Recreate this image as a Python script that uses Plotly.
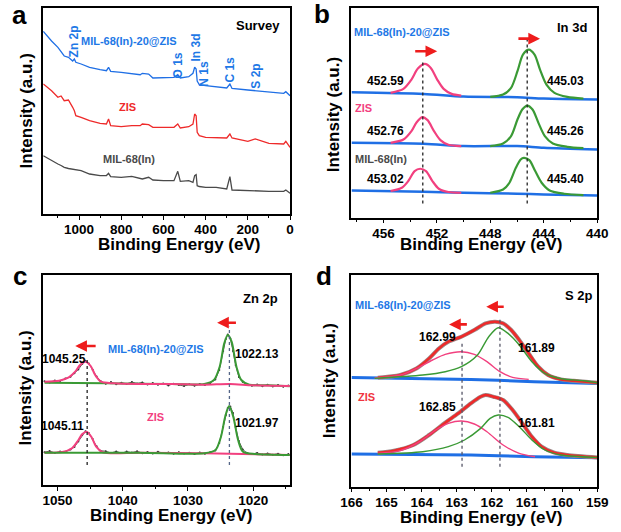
import plotly.graph_objects as go

W, H = 621, 532
BLUE = "#1f6fe5"
RED = "#ee2a2a"
PINK = "#f2407f"
GREEN = "#3a9a35"
GREY = "#4a4a4a"
FONT = "Liberation Sans, Arial, sans-serif"

# ---------------- Panel a: survey ----------------
a_ev = [1169, 1130, 1100, 1085, 1070, 1050, 1030, 1022, 1015, 990, 950, 900, 870, 860, 850, 800, 750,
        710, 700, 670, 650, 600, 550, 532, 520, 480, 460, 452, 445, 440, 430, 400, 350, 300, 285, 275,
        200, 165, 100, 30, 20, 0]
a_comp = [182.7, 173, 166.7, 161.7, 158, 156.7, 153, 155, 151.7, 150, 146.7, 144.3, 143.3, 146.7, 142.7,
          141.7, 140, 139.3, 140.7, 140, 136, 136, 136.7, 139.3, 136, 137.3, 140.7, 146.7, 145, 133, 129.3,
          128.3, 127.3, 126, 130, 125.5, 124, 123.3, 121.7, 120.7, 122.3, 118.3]
a_zis = [130, 123.3, 116.7, 118, 113.3, 114, 106.7, 103.3, 98.3, 96.7, 93.3, 90.7, 90, 95, 88.3, 87.3,
         88.3, 88.3, 90, 89.3, 86.7, 86.7, 86.7, 90, 86, 87.3, 90, 100, 98.3, 81.7, 78.3, 76.7, 76, 76,
         80, 76, 72.7, 75, 70.7, 70, 72.7, 66.7]
a_mil = [58.3, 53.3, 50, 48.5, 46.7, 45.5, 45, 44.5, 44, 43.3, 40, 38.3, 38.5, 40.7, 37.3, 36.7, 37.7,
         35.5, 35, 36.7, 34, 33.3, 33.3, 42.7, 32.7, 33.3, 31.7, 38.3, 39.3, 28.3, 27.5, 26.7, 26.7, 25,
         37.3, 24, 23.3, 23.5, 22.7, 22.7, 24, 20.7]

# ---------------- Panel b: In 3d ----------------
b_base_ev = [458.4, 453.0, 450.0, 446.0, 444.0, 440.0]
b_base_top = [125.7, 124.0, 121.3, 120.7, 119.3, 118.3]
b_base_mid = [75.0, 74.0, 71.7, 71.7, 70.0, 68.3]
b_base_bot = [27.3, 26.0, 25.0, 24.0, 23.3, 22.3]

b_pink_top_ev = [455.47, 454.51, 453.91, 453.43, 452.90, 452.46, 451.98, 451.50, 450.90, 450.18]
b_pink_top = [125.0, 129.0, 138.3, 149.3, 154.0, 150.0, 138.3, 129.0, 124.0, 122.3]
b_green_top_ev = [448.01, 447.05, 446.45, 445.97, 445.56, 445.12, 444.69, 444.28, 443.80, 443.20, 442.24, 441.03]
b_green_top = [121.0, 123.3, 130.0, 146.7, 163.3, 168.3, 163.3, 148.3, 133.3, 125.0, 121.0, 119.3]

b_pink_mid_ev = [455.47, 454.51, 453.91, 453.55, 453.11, 452.70, 452.22, 451.74, 451.14, 450.18]
b_pink_mid = [75.0, 78.3, 86.7, 95.0, 100.7, 97.7, 86.7, 77.7, 73.0, 71.7]
b_green_mid_ev = [448.01, 447.05, 446.45, 445.97, 445.61, 445.24, 444.84, 444.40, 443.92, 443.32, 442.24, 441.03]
b_green_mid = [71.7, 74.3, 81.7, 98.3, 108.3, 112.3, 108.3, 95.0, 81.7, 74.3, 71.0, 69.7]

b_pink_bot_ev = [455.47, 454.63, 454.15, 453.67, 453.26, 452.82, 452.34, 451.86, 451.14, 450.18]
b_pink_bot = [26.7, 30.0, 36.7, 46.7, 49.0, 46.7, 36.7, 29.0, 25.7, 25.0]
b_green_bot_ev = [448.01, 447.05, 446.57, 446.09, 445.73, 445.49, 445.08, 444.64, 444.16, 443.56, 442.48, 441.03]
b_green_bot = [25.0, 28.3, 35.0, 50.0, 58.3, 60.0, 57.7, 46.7, 35.0, 27.3, 24.0, 22.7]

b_ref_ev = [453.06, 445.24]
b_ref_top = [158.3, 181.7]
b_ref_bottom = 14.3

# ---------------- Panel c: Zn 2p ----------------
c_pink_top_ev = [1051.98, 1049.75, 1048.27, 1047.28, 1046.54, 1045.70, 1044.91, 1044.22, 1043.33, 1041.35,
                 1037.39, 1032.45, 1027.51, 1023.55, 1020.09, 1014.36]
c_pink_top = [103.3, 104.3, 107.7, 113.3, 120.0, 123.3, 119.0, 110.0, 103.3, 101.7, 101.0, 101.0, 100.3,
              101.0, 99.7, 99.0]
c_green_top_ev = [1051.98, 1042.34, 1032.45, 1027.51, 1026.03, 1025.14, 1024.44, 1023.90, 1023.31, 1022.57,
                  1021.83, 1020.59, 1017.62, 1014.36]
c_green_top = [102.3, 101.7, 101.0, 101.0, 105.0, 118.3, 141.7, 150.0, 143.3, 118.3, 105.0, 100.3, 99.7, 98.7]

c_pink_bot_ev = [1051.98, 1049.26, 1047.78, 1046.79, 1046.19, 1045.55, 1044.81, 1044.07, 1043.08, 1037.39,
                 1027.51, 1014.36]
c_pink_bot = [32.3, 33.0, 36.7, 45.0, 51.0, 53.3, 48.3, 38.3, 32.7, 32.3, 31.7, 30.0]
c_green_bot_ev = [1051.98, 1037.39, 1027.51, 1025.78, 1024.94, 1024.30, 1023.70, 1023.06, 1022.32, 1021.58,
                  1019.60, 1014.36]
c_green_bot = [32.3, 32.3, 31.7, 35.0, 48.3, 68.3, 79.0, 68.3, 45.0, 33.3, 31.0, 30.0]

c_raw_ev = [1052, 1051.2, 1050.4, 1049.6, 1048.8, 1048, 1047.4, 1046.8, 1046.2, 1045.7, 1045.2, 1044.6,
            1044, 1043.4, 1042.6, 1041.8, 1041, 1040.2, 1039.4, 1038.6, 1037.8, 1037, 1036.2, 1035.4,
            1034.6, 1033.8, 1033, 1032.2, 1031.4, 1030.6, 1029.8, 1029, 1028.2, 1027.4, 1026.6, 1025.8,
            1025.2, 1024.6, 1024.2, 1023.9, 1023.5, 1023.1, 1022.7, 1022.2, 1021.6, 1021, 1020.2, 1019.4,
            1018.6, 1017.8, 1017, 1016.2, 1015.4, 1014.6]
c_raw_top = [103.8, 102.6, 104.5, 103.9, 106.5, 108.2, 111.8, 115.5, 121.0, 124.2, 121.6, 115.2, 108.5,
             104.1, 101.2, 102.9, 100.8, 102.3, 101.1, 103.0, 101.5, 102.6, 100.4, 101.9, 100.2, 101.4,
             99.6, 101.3, 100.1, 98.9, 100.7, 99.2, 100.9, 100.0, 101.8, 105.5, 115.0, 134.0, 146.0, 150.5,
             146.5, 134.0, 120.0, 108.0, 103.0, 100.5, 99.2, 100.6, 98.8, 100.2, 98.5, 99.9, 98.2, 99.4]
c_raw_bot = [32.8, 33.9, 32.1, 33.5, 33.2, 35.4, 38.0, 43.5, 50.0, 53.8, 52.0, 46.0, 38.7, 34.2, 33.8,
             32.0, 33.6, 31.9, 33.4, 32.4, 33.7, 31.8, 32.9, 31.6, 33.2, 31.9, 32.6, 31.2, 32.8, 31.5, 32.3,
             30.9, 32.4, 31.2, 32.7, 34.5, 42.0, 58.0, 70.0, 77.0, 78.5, 72.0, 58.0, 44.0, 35.5, 32.2, 31.0,
             32.1, 30.4, 31.6, 30.2, 31.3, 29.8, 30.9]

c_ref_ev = [1045.45, 1023.65]
c_ref_top = [125.0, 158.3]
c_ref_bottom = 20.0

# ---------------- Panel d: S 2p ----------------
d_base_ev = [166.0, 162.6, 160.8, 159.0]
d_base_top = [109.3, 107.3, 105.0, 103.3]
d_base_bot = [32.7, 31.7, 30.0, 29.0]

d_red_top_ev = [165.25, 164.61, 164.15, 163.79, 163.51, 163.24, 162.87, 162.50, 162.18, 161.91, 161.68,
                161.45, 161.22, 160.95, 160.68, 160.40, 160.03, 159.67, 159.00]
d_red_top = [109.0, 111.7, 118.3, 128.3, 138.3, 145.0, 150.0, 156.7, 163.3, 165.0, 163.3, 156.7, 146.7,
             133.3, 120.0, 111.7, 107.3, 106.0, 104.0]
d_pink_top_ev = [165.34, 164.61, 164.15, 163.69, 163.33, 162.87, 162.50, 162.14, 161.77, 161.41, 160.95]
d_pink_top = [108.7, 111.7, 118.3, 126.7, 132.3, 135.0, 132.3, 125.0, 115.0, 109.3, 107.3]
d_green_top_ev = [165.34, 163.97, 163.33, 162.87, 162.41, 162.09, 161.82, 161.54, 161.22, 160.86, 160.49,
                  160.03, 159.39, 159.00]
d_green_top = [108.3, 111.7, 115.0, 120.0, 131.7, 150.0, 159.0, 153.3, 141.7, 125.0, 113.3, 108.0, 106.0, 104.0]

d_red_bot_ev = [165.25, 164.79, 164.24, 163.79, 163.33, 162.96, 162.60, 162.32, 162.18, 161.96, 161.68,
                161.41, 161.13, 160.86, 160.58, 160.22, 159.85, 159.00]
d_red_bot = [34.0, 36.0, 41.7, 51.7, 64.0, 73.3, 83.3, 90.0, 91.7, 90.0, 86.7, 76.7, 63.3, 50.0, 40.0,
             34.0, 31.7, 29.3]
d_pink_bot_ev = [165.25, 164.61, 164.06, 163.60, 163.24, 162.87, 162.50, 162.14, 161.68, 161.22, 160.77]
d_pink_bot = [33.3, 36.0, 45.0, 56.7, 63.3, 65.7, 62.7, 55.0, 41.7, 33.3, 30.0]
d_green_bot_ev = [165.25, 163.97, 163.24, 162.78, 162.32, 162.05, 161.82, 161.54, 161.22, 160.86, 160.49,
                  160.03, 159.00]
d_green_bot = [32.7, 35.0, 40.0, 46.7, 58.3, 68.3, 71.7, 69.3, 60.0, 46.7, 36.7, 31.7, 29.3]

d_ref_ev = [162.85, 161.77]
d_ref_top = [145.0, 168.3]
d_ref_bottom = 20.0

fig = go.Figure()


def line(x, y, color, width, ax, shape="spline", dash=None):
    fig.add_trace(go.Scatter(x=x, y=y, mode="lines", xaxis=ax[0], yaxis=ax[1],
                             line=dict(color=color, width=width, shape=shape, smoothing=0.8, dash=dash),
                             hoverinfo="skip"))


A, B, C, D = ("x", "y"), ("x2", "y2"), ("x3", "y3"), ("x4", "y4")

# panel a
line(a_ev, a_mil, GREY, 1.3, A, shape="linear")
line(a_ev, a_zis, RED, 1.3, A, shape="linear")
line(a_ev, a_comp, BLUE, 1.3, A, shape="linear")

# panel b
for base, pev, pk, gev, gk in [(b_base_top, b_pink_top_ev, b_pink_top, b_green_top_ev, b_green_top),
                               (b_base_mid, b_pink_mid_ev, b_pink_mid, b_green_mid_ev, b_green_mid),
                               (b_base_bot, b_pink_bot_ev, b_pink_bot, b_green_bot_ev, b_green_bot)]:
    line(b_base_ev, base, BLUE, 2.5, B)
    line(pev, pk, PINK, 2.2, B)
    line(gev, gk, GREEN, 2.2, B)
for xv, top in zip(b_ref_ev, b_ref_top):
    line([xv, xv], [b_ref_bottom, top], "#222222", 1.3, B, shape="linear", dash="dot")

# panel c
for raw in (c_raw_top, c_raw_bot):
    fig.add_trace(go.Scatter(x=c_raw_ev, y=raw, mode="lines+markers", xaxis="x3", yaxis="y3",
                             line=dict(color="#555555", width=1), marker=dict(size=2, color="#333333"),
                             hoverinfo="skip"))
line(c_green_top_ev, c_green_top, GREEN, 2, C)
line(c_pink_top_ev, c_pink_top, PINK, 2, C)
line(c_pink_bot_ev, c_pink_bot, PINK, 2, C)
line(c_green_bot_ev, c_green_bot, GREEN, 2, C)
line([c_ref_ev[0], c_ref_ev[0]], [c_ref_bottom, c_ref_top[0]], "#222222", 1.3, C, shape="linear", dash="dot")
line([c_ref_ev[1], c_ref_ev[1]], [c_ref_bottom, c_ref_top[1]], "#556688", 1.3, C, shape="linear", dash="dot")

# panel d
for base, rev, rk, pev, pk, gev, gk in [
        (d_base_top, d_red_top_ev, d_red_top, d_pink_top_ev, d_pink_top, d_green_top_ev, d_green_top),
        (d_base_bot, d_red_bot_ev, d_red_bot, d_pink_bot_ev, d_pink_bot, d_green_bot_ev, d_green_bot)]:
    line(d_base_ev, base, BLUE, 3, D)
    line(rev, rk, "#9a8a8a", 4, D)
    line(rev, rk, RED, 2.6, D)
    line(pev, pk, PINK, 1.4, D)
    line(gev, gk, GREEN, 1.4, D)
for xv, top in zip(d_ref_ev, d_ref_top):
    line([xv, xv], [d_ref_bottom, top], "#555566", 1.3, D, shape="linear", dash="dot")


def px_dom(x0, x1, y0, y1):
    return [x0 / W, x1 / W], [1 - y1 / H, 1 - y0 / H]


axis_common = dict(showline=True, mirror=True, linecolor="black", linewidth=1.5, showgrid=False,
                   zeroline=False)
xcommon = dict(axis_common, ticks="outside", ticklen=4, tickwidth=1.3, tickcolor="black",
               ticklabelstandoff=-2,
               tickfont=dict(family=FONT, size=13.5, color="black", weight="bold"))
ycommon = dict(axis_common, showticklabels=False, ticks="")


def minor(dt):
    return dict(ticks="outside", ticklen=2.5, tickwidth=1, tickcolor="black", dtick=dt)


ax_a = px_dom(33.3, 289.3, 8.3, 214)
ax_b = px_dom(353, 607.7, 8.3, 217.7)
ax_c = px_dom(33.3, 289, 275, 485)
ax_d = px_dom(353, 607.7, 275, 486.7)

fig.update_layout(
    width=W, height=H, margin=dict(l=0, r=0, t=0, b=0),
    paper_bgcolor="white", plot_bgcolor="white", showlegend=False,
    xaxis=dict(xcommon, domain=ax_a[0], range=[1170, 0], tickvals=[1000, 800, 600, 400, 200, 0],
               minor=minor(100), anchor="y"),
    yaxis=dict(ycommon, domain=ax_a[1], range=[0, 205.7], anchor="x"),
    xaxis2=dict(xcommon, domain=ax_b[0], range=[458.4, 440], tickvals=[456, 452, 448, 444, 440],
                minor=minor(2), anchor="y2"),
    yaxis2=dict(ycommon, domain=ax_b[1], range=[0, 209.7], anchor="x2"),
    xaxis3=dict(xcommon, domain=ax_c[0], range=[1052.2, 1014.4], tickvals=[1050, 1040, 1030, 1020],
                minor=minor(5), anchor="y3"),
    yaxis3=dict(ycommon, domain=ax_c[1], range=[0, 210], anchor="x3"),
    xaxis4=dict(xcommon, domain=ax_d[0], range=[166, 159], tickvals=[166, 165, 164, 163, 162, 161, 160, 159],
                minor=minor(0.5), anchor="y4"),
    yaxis4=dict(ycommon, domain=ax_d[1], range=[0, 211.7], anchor="x4"),
)

ann = []


def txt(x, y, s, ax, color="black", size=12, angle=0):
    ann.append(dict(x=x, y=y, xref=ax[0], yref=ax[1], text=s, showarrow=False, textangle=angle,
                    font=dict(family=FONT, size=size, color=color, weight="bold")))


def ptxt(xpx, ypx, s, size=17, angle=0, color="black"):
    ann.append(dict(x=xpx / W, y=1 - ypx / H, xref="paper", yref="paper", text=s,
                    showarrow=False, textangle=angle, xanchor="center", yanchor="middle",
                    font=dict(family=FONT, size=size, color=color, weight="bold")))


def arrow(x0, x1, y, ax):
    # arrow from x0 (tail) to x1 (head)
    ann.append(dict(x=x1, y=y, ax=x0, ay=y, xref=ax[0], yref=ax[1], axref=ax[0], ayref=ax[1], text="",
                    showarrow=True, arrowhead=2, arrowsize=0.9, arrowwidth=2.6, arrowcolor="#ee1c1c"))


BTXT = "#1e78e6"
# panel a texts
txt(1023, 172.7, "Zn 2p", A, BTXT, 12, -90)
txt(763.7, 173.3, "MIL-68(In)-20@ZIS", A, BTXT, 11)
txt(532, 148.3, "O 1s", A, BTXT, 12, -90)
txt(448, 166, "In 3d", A, BTXT, 12, -90)
txt(405.5, 140.7, "N 1s", A, BTXT, 12, -90)
txt(286.6, 144, "C 1s", A, BTXT, 12, -90)
txt(161.6, 138.3, "S 2p", A, BTXT, 12, -90)
txt(154, 188.3, "Survey", A, "black", 13)
txt(771, 106.7, "ZIS", A, RED, 11)
txt(763.7, 55, "MIL-68(In)", A, GREY, 11)

# panel b texts
txt(454.63, 186, "MIL-68(In)-20@ZIS", B, BTXT, 11)
txt(441.88, 190, "In 3d", B, "black", 13)
txt(455.83, 137.3, "452.59", B, "black", 12)
txt(442.36, 137.3, "445.03", B, "black", 12)
txt(457.52, 110, "ZIS", B, PINK, 11)
txt(455.83, 86.7, "452.76", B, "black", 12)
txt(442.36, 86.7, "445.26", B, "black", 12)
txt(456.19, 59, "MIL-68(In)", B, GREY, 11)
txt(455.83, 38.3, "453.02", B, "black", 12)
txt(442.36, 38.3, "445.40", B, "black", 12)
arrow(453.74, 451.98, 166.7, B)
arrow(446.01, 444.28, 179.3, B)

# panel c texts
txt(1018.86, 186.7, "Zn 2p", C, "black", 13)
txt(1034.92, 135.7, "MIL-68(In)-20@ZIS", C, BTXT, 11)
txt(1049.0, 126, "1045.25", C, "black", 12)
txt(1019.35, 130.7, "1022.13", C, "black", 12)
txt(1034.92, 68.3, "ZIS", C, PINK, 11)
txt(1049.26, 59.3, "1045.11", C, "black", 12)
txt(1019.35, 62.3, "1021.97", C, "black", 12)
arrow(1043.92, 1047.28, 139, C)
arrow(1022.42, 1025.53, 162.3, C)

# panel d texts
txt(159.53, 191.7, "S 2p", D, "black", 13)
txt(164.52, 181.7, "MIL-68(In)-20@ZIS", D, BTXT, 11)
txt(163.56, 150, "162.99", D, "black", 12)
txt(160.72, 138.3, "161.89", D, "black", 12)
txt(165.57, 90, "ZIS", D, "#f0343f", 11)
txt(163.56, 80, "162.85", D, "black", 12)
txt(160.72, 64, "161.81", D, "black", 12)
arrow(161.62, 162.16, 180, D)
arrow(162.67, 163.22, 162.3, D)

# axis titles and panel letters
ptxt(174, 244.5, "Binding Energy (eV)")
ptxt(487, 244.5, "Binding Energy (eV)")
ptxt(166, 515.5, "Binding Energy (eV)")
ptxt(487, 517, "Binding Energy (eV)")
ptxt(16, 111, "Intensity (a.u.)", angle=-90)
ptxt(335, 115, "Intensity (a.u.)", angle=-90)
ptxt(15, 388, "Intensity (a.u.)", angle=-90)
ptxt(330, 381, "Intensity (a.u.)", angle=-90)
ptxt(9, 15, "a", size=26)
ptxt(322, 14, "b", size=26)
ptxt(9, 276, "c", size=26)
ptxt(325, 276, "d", size=26)

fig.update_layout(annotations=ann)
# remove the browser's default 8px page margin so the figure sits at the window's corner
fig.write_html("out.html", config={"displayModeBar": False},
               post_script="document.body.style.margin='0';")
